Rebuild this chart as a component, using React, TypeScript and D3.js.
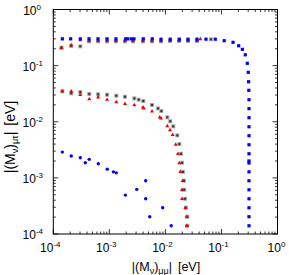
import React, { useEffect, useRef } from 'react';
import * as d3 from 'd3';

// [ |(Mv)_mumu| , |(Mv)_mutau| ]
const blueTop: [number, number][] = [
  [1.45e-4, 0.3], [2.04e-4, 0.3], [3.03e-4, 0.3], [4.34e-4, 0.3], [6.27e-4, 0.3],
  [9.08e-4, 0.3], [1.31e-3, 0.3], [1.96e-3, 0.3], [2.12e-3, 0.3], [2.46e-3, 0.3],
  [2.75e-3, 0.3], [4.03e-3, 0.3], [5.83e-3, 0.3], [8.35e-3, 0.296], [1.22e-2, 0.296],
  [1.77e-2, 0.296], [2.53e-2, 0.296], [3.66e-2, 0.296], [5.3e-2, 0.296], [7.76e-2, 0.296],
  [0.112, 0.278], [0.161, 0.26], [0.203, 0.226], [0.236, 0.195], [0.266, 0.156],
  [0.289, 0.11], [0.301, 0.076], [0.305, 0.0516], [0.308, 0.0363], [0.31, 0.0247],
  [0.31, 0.0171], [0.31, 0.0118], [0.31, 8.14e-3], [0.31, 5.63e-3], [0.31, 3.89e-3],
  [0.31, 2.69e-3], [0.31, 2.0e-3], [0.31, 1.84e-3], [0.31, 1.28e-3], [0.31, 8.88e-4],
  [0.31, 6.14e-4], [0.31, 4.24e-4], [0.31, 2.93e-4], [0.31, 2.03e-4], [0.31, 1.4e-4]
];

const blueLow: [number, number][] = [
  [1.45e-4, 2.88e-3], [2.09e-4, 2.45e-3], [3.03e-4, 2.28e-3], [3.72e-4, 1.86e-3],
  [4.38e-4, 2.14e-3], [6.35e-4, 1.78e-3], [9.18e-4, 1.43e-3], [1.18e-3, 1.28e-3],
  [1.33e-3, 1.23e-3], [1.93e-3, 4.93e-4], [3.08e-3, 6.24e-4], [4.45e-3, 8.88e-4],
  [4.45e-3, 4.24e-4], [5.25e-3, 2.03e-4], [8.95e-3, 2.93e-4], [1.27e-2, 1.4e-4]
];

const grayTop: [number, number][] = [
  [1.4e-4, 0.206], [2.09e-4, 0.224], [3.03e-4, 0.221], [4.34e-4, 0.271], [6.3e-4, 0.271],
  [9.1e-4, 0.271], [1.31e-3, 0.271], [1.9e-3, 0.271], [2.64e-3, 0.271], [3.98e-3, 0.271],
  [5.77e-3, 0.271], [8.35e-3, 0.271], [1.21e-2, 0.274], [1.75e-2, 0.274], [2.53e-2, 0.274],
  [3.66e-2, 0.274], [6.49e-2, 0.294]
];

const grayLow: [number, number][] = [
  [1.45e-4, 3.48e-2], [2.09e-4, 3.21e-2], [3.03e-4, 3.38e-2], [4.38e-4, 3.12e-2],
  [6.3e-4, 3.08e-2], [9.1e-4, 3.03e-2], [1.33e-3, 2.91e-2], [1.9e-3, 2.79e-2],
  [2.79e-3, 2.61e-2], [3.34e-3, 2.47e-2], [4.03e-3, 2.34e-2], [5.77e-3, 1.99e-2],
  [7.38e-3, 1.73e-2], [8.46e-3, 1.55e-2], [1.08e-2, 1.2e-2], [1.22e-2, 1.02e-2],
  [1.38e-2, 8.28e-3], [1.63e-2, 5.72e-3], [1.77e-2, 4.0e-3], [1.9e-2, 2.69e-3],
  [1.98e-2, 1.86e-3], [2.06e-2, 1.28e-3], [2.15e-2, 8.88e-4], [2.17e-2, 6.14e-4],
  [2.24e-2, 4.24e-4], [2.33e-2, 2.93e-4], [2.46e-2, 2.03e-4], [2.46e-2, 1.4e-4]
];

const redTop: [number, number][] = [
  [1.4e-4, 0.21], [2.09e-4, 0.233], [3.03e-4, 0.286], [4.34e-4, 0.28], [6.3e-4, 0.28],
  [9.1e-4, 0.28], [1.31e-3, 0.28], [1.9e-3, 0.28], [2.64e-3, 0.28], [3.98e-3, 0.28],
  [5.77e-3, 0.28], [8.35e-3, 0.28], [1.21e-2, 0.28], [1.75e-2, 0.28], [2.53e-2, 0.28],
  [3.66e-2, 0.28], [4.19e-2, 0.298]
];

const redLow: [number, number][] = [
  [1.45e-4, 3.52e-2], [2.09e-4, 3.48e-2], [3.03e-4, 3.03e-2], [4.38e-4, 2.54e-2],
  [6.3e-4, 2.72e-2], [9.1e-4, 2.47e-2], [1.33e-3, 2.24e-2], [1.9e-3, 2.09e-2],
  [2.79e-3, 1.99e-2], [3.98e-3, 1.81e-2], [4.1e-3, 1.73e-2], [5.77e-3, 1.53e-2],
  [7.91e-3, 1.2e-2], [8.35e-3, 1.15e-2], [1.08e-2, 8.38e-3], [1.21e-2, 7.11e-3],
  [1.35e-2, 5.86e-3], [1.53e-2, 3.92e-3], [1.68e-2, 2.69e-3], [1.77e-2, 1.84e-3],
  [1.85e-2, 1.28e-3], [2.04e-2, 8.88e-4], [1.98e-2, 6.14e-4], [1.98e-2, 4.24e-4],
  [2.27e-2, 2.93e-4], [2.4e-2, 2.03e-4], [2.4e-2, 1.4e-4]
];

const decades = [-4, -3, -2, -1, 0];

const App = () => {
  const ref = useRef<SVGSVGElement>(null);

  useEffect(() => {
    const svg = d3.select(ref.current);
    svg.selectAll('*').remove();
    const font = '"Liberation Sans", Arial, sans-serif';

    const left = 53.3, right = 277.5, top = 9.5, bottom = 234;
    const x = d3.scaleLog().domain([1e-4, 1]).range([left, right]);
    const y = d3.scaleLog().domain([1e-4, 1]).range([bottom, top]);

    // ticks, mirrored on all four sides, pointing inwards
    const g = svg.append('g').attr('stroke', '#000').attr('stroke-width', 0.8);
    const minor: number[] = [];
    decades.slice(0, -1).forEach(e => {
      for (let k = 2; k <= 9; k++) minor.push(k * Math.pow(10, e));
    });
    const major = decades.map(e => Math.pow(10, e));
    const tick = (v: number, len: number) => {
      const px = x(v), py = y(v);
      g.append('line').attr('x1', px).attr('x2', px).attr('y1', bottom).attr('y2', bottom - len);
      g.append('line').attr('x1', px).attr('x2', px).attr('y1', top).attr('y2', top + len);
      g.append('line').attr('y1', py).attr('y2', py).attr('x1', left).attr('x2', left + len);
      g.append('line').attr('y1', py).attr('y2', py).attr('x1', right).attr('x2', right - len);
    };
    minor.forEach(v => tick(v, 2.5));
    major.forEach(v => tick(v, 5));

    svg
      .append('rect')
      .attr('x', left)
      .attr('y', top)
      .attr('width', right - left)
      .attr('height', bottom - top)
      .attr('fill', 'none')
      .attr('stroke', '#000')
      .attr('stroke-width', 1);

    // tick labels 10^n
    decades.forEach(e => {
      const tx = svg
        .append('text')
        .attr('x', x(Math.pow(10, e)) - (e < 0 ? 3 : 1))
        .attr('y', bottom + 18)
        .attr('text-anchor', 'middle')
        .attr('font-family', font)
        .attr('font-size', 12);
      tx.append('tspan').text('10');
      tx.append('tspan').attr('dy', -5).attr('font-size', 8).text(String(e));

      const ty = svg
        .append('text')
        .attr('x', e < 0 ? 43 : 41)
        .attr('y', y(Math.pow(10, e)) + 5)
        .attr('text-anchor', 'end')
        .attr('font-family', font)
        .attr('font-size', 12);
      ty.append('tspan').text('10');
      ty.append('tspan').attr('dy', -5).attr('font-size', 8).text(String(e));
    });

    // axis titles
    const title = (sel: d3.Selection<SVGTextElement, unknown, null, undefined>, sub: string) => {
      sel.append('tspan').text('|(M');
      sel.append('tspan').attr('dy', 3).attr('font-size', 9).text('ν');
      sel.append('tspan').attr('dy', -3).text(')');
      sel.append('tspan').attr('dy', 3).attr('font-size', 9).text(sub);
      sel.append('tspan').attr('dy', -3).text('|');
      sel.append('tspan').attr('dx', 6).text('[eV]');
    };
    const xl = svg
      .append('text')
      .attr('x', 166)
      .attr('y', 271)
      .attr('text-anchor', 'middle')
      .attr('font-family', font)
      .attr('font-size', 12.5);
    title(xl, 'μμ');

    const yl = svg
      .append('text')
      .attr('transform', 'translate(15,137) rotate(-90)')
      .attr('text-anchor', 'middle')
      .attr('font-family', font)
      .attr('font-size', 14);
    title(yl, 'μτ');

    // gray squares
    const grays = grayTop.concat(grayLow);
    const gg = svg.append('g');
    gg.selectAll('rect.o')
      .data(grays)
      .join('rect')
      .attr('class', 'o')
      .attr('x', d => x(d[0]) - 2)
      .attr('y', d => y(d[1]) - 2)
      .attr('width', 4)
      .attr('height', 4)
      .attr('fill', '#a8a8a8');
    gg.selectAll('rect.i')
      .data(grays)
      .join('rect')
      .attr('class', 'i')
      .attr('x', d => x(d[0]) - 1)
      .attr('y', d => y(d[1]) - 1)
      .attr('width', 2)
      .attr('height', 2)
      .attr('fill', '#333');

    // red triangles
    const tri = d3.symbol().type(d3.symbolTriangle).size(7);
    svg
      .append('g')
      .selectAll('path')
      .data(redTop.concat(redLow))
      .join('path')
      .attr('d', tri)
      .attr('transform', d => `translate(${x(d[0])},${y(d[1])})`)
      .attr('fill', '#ee0000');

    // blue
    svg
      .append('g')
      .selectAll('rect')
      .data(blueTop)
      .join('rect')
      .attr('x', d => x(d[0]) - 1.6)
      .attr('y', d => y(d[1]) - 1.6)
      .attr('width', 3.2)
      .attr('height', 3.2)
      .attr('fill', '#0000ff');
    svg
      .append('g')
      .selectAll('circle')
      .data(blueLow)
      .join('circle')
      .attr('cx', d => x(d[0]))
      .attr('cy', d => y(d[1]))
      .attr('r', 1.7)
      .attr('fill', '#0000ff');
  });

  return (
    <svg
      ref={ref}
      width={289}
      height={275}
      style={{ position: 'absolute', left: 0, top: 0, background: '#fff' }}
    />
  );
};
export default App;
